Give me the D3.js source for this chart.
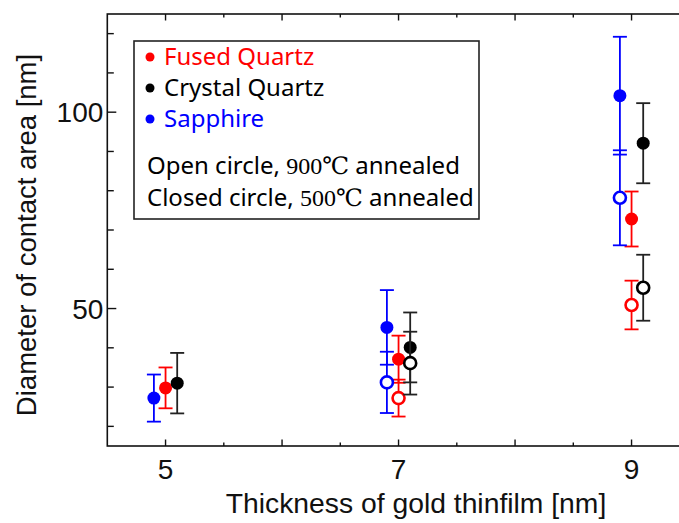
<!DOCTYPE html>
<html><head><meta charset="utf-8">
<script src="https://cdn.jsdelivr.net/npm/d3@7"></script>
<style>body{margin:0;background:#fff}</style>
</head><body>
<svg id="c" width="679" height="523"></svg>
<script>
// ---- data ----
const thicknessClosed = [5, 7, 9];
const thicknessOpen = [7, 9];
const seriesNames = ["Fused Quartz", "Crystal Quartz", "Sapphire"];
const seriesColors = ["#ff0000", "#000000", "#0000ff"];
const seriesOffsets = [0, 0.1, -0.1];
// closed circle = 500℃ annealed
const fusedClosed = [29.8, 37.1, 72.8];
const fusedClosedErr = [5.2, 6.0, 7.0];
const crystalClosed = [31.0, 40.1, 92.1];
const crystalClosedErr = [7.7, 8.9, 10.2];
const sapphireClosed = [27.2, 45.2, 104.2];
const sapphireClosedErr = [6.0, 9.5, 15.0];
// open circle = 900℃ annealed
const fusedOpen = [27.2, 50.9];
const fusedOpenErr = [4.7, 6.2];
const crystalOpen = [36.1, 55.3];
const crystalOpenErr = [8.0, 8.4];
const sapphireOpen = [31.2, 78.2];
const sapphireOpenErr = [7.8, 12.1];
const xTickLabels = [5, 7, 9];
const yTickLabels = [50, 100];

const closedVals = [fusedClosed, crystalClosed, sapphireClosed];
const closedErrs = [fusedClosedErr, crystalClosedErr, sapphireClosedErr];
const openVals = [fusedOpen, crystalOpen, sapphireOpen];
const openErrs = [fusedOpenErr, crystalOpenErr, sapphireOpenErr];

// ---- layout ----
const svg = d3.select("#c");
const L = 107.3, T = 14, B = 446;
const x = d3.scaleLinear().domain([4.5, 9.5]).range([L, L + 5 * 116.5]);
const y = d3.scaleLinear().domain([15, 125]).range([B, T]);
const R = x(9.5);
const axisFont = "'Liberation Sans', Arial, sans-serif";
const legFont = "'Noto Sans', 'Open Sans', sans-serif";

// frame
svg.append("rect").attr("x", L).attr("y", T).attr("width", R - L).attr("height", B - T)
  .attr("fill", "none").attr("stroke", "#111").attr("stroke-width", 1.6);

// x ticks (bottom + top), every 0.5, major at integers
const xt = d3.range(5, 9.51, 0.5);
xt.forEach(v => {
  const major = Math.abs(v - Math.round(v)) < 1e-6;
  const len = major ? 6.5 : 3.5;
  svg.append("line").attr("x1", x(v)).attr("x2", x(v)).attr("y1", B).attr("y2", B - len)
    .attr("stroke", "#111").attr("stroke-width", 1.4);
  svg.append("line").attr("x1", x(v)).attr("x2", x(v)).attr("y1", T).attr("y2", T + len)
    .attr("stroke", "#111").attr("stroke-width", 1.4);
});
xTickLabels.forEach(v => {
  svg.append("text").attr("x", x(v)).attr("y", B + 33).attr("text-anchor", "middle")
    .attr("font-family", axisFont).attr("font-size", 28).attr("fill", "#111").text(v);
});
// y ticks every 10
d3.range(20, 121, 10).forEach(v => {
  const major = v % 50 === 0;
  svg.append("line").attr("x1", L).attr("x2", L + (major ? 9 : 6.5)).attr("y1", y(v)).attr("y2", y(v))
    .attr("stroke", "#111").attr("stroke-width", 1.4);
});
yTickLabels.forEach(v => {
  svg.append("text").attr("x", L - 4).attr("y", y(v)).attr("dy", "0.36em").attr("text-anchor", "end")
    .attr("font-family", axisFont).attr("font-size", 28).attr("fill", "#111").text(v);
});
// axis titles
svg.append("text").attr("x", 416).attr("y", 513).attr("text-anchor", "middle")
  .attr("font-family", axisFont).attr("font-size", 28.3).attr("fill", "#111")
  .text("Thickness of gold thinfilm [nm]");
svg.append("text").attr("transform", "translate(36,235) rotate(-90)").attr("text-anchor", "middle")
  .attr("font-family", axisFont).attr("font-size", 27.5).attr("fill", "#111")
  .text("Diameter of contact area [nm]");

// ---- marks ----
function drawSeries(xs, vals, errs, color, off, open) {
  const g = svg.append("g");
  xs.forEach((t, i) => {
    const cx = x(t + off), v = vals[i], e = errs[i];
    const c = color === "#000000" ? "#222" : color;
    g.append("line").attr("x1", cx).attr("x2", cx).attr("y1", y(v + e)).attr("y2", y(v - e))
      .attr("stroke", c).attr("stroke-width", 1.8);
    [v + e, v - e].forEach(w => g.append("line").attr("x1", cx - 7).attr("x2", cx + 7)
      .attr("y1", y(w)).attr("y2", y(w)).attr("stroke", c).attr("stroke-width", 1.8));
  });
  xs.forEach((t, i) => {
    const cx = x(t + off), v = vals[i];
    g.append("circle").attr("cx", cx).attr("cy", y(v)).attr("r", open ? 6 : 6.5)
      .attr("fill", open ? "#fff" : color).attr("stroke", open ? color : "none")
      .attr("stroke-width", open ? 2.6 : 0);
  });
}
[0, 1, 2].forEach(s => {
  drawSeries(thicknessClosed, closedVals[s], closedErrs[s], seriesColors[s], seriesOffsets[s], false);
  drawSeries(thicknessOpen, openVals[s], openErrs[s], seriesColors[s], seriesOffsets[s], true);
});

// ---- legend ----
const lg = svg.append("g");
lg.append("rect").attr("x", 134).attr("y", 41).attr("width", 345).attr("height", 178)
  .attr("fill", "#fff").attr("stroke", "#222").attr("stroke-width", 1.6);
const legBase = [65, 96, 127];
seriesNames.forEach((n, i) => {
  lg.append("circle").attr("cx", 150).attr("cy", legBase[i] - 8).attr("r", 4.5).attr("fill", seriesColors[i]);
  lg.append("text").attr("x", 164).attr("y", legBase[i]).attr("font-family", legFont)
    .attr("font-size", 24).attr("fill", seriesColors[i]).text(n);
});
const noteLines = [["Open circle, ", "900℃", " annealed"], ["Closed circle, ", "500℃", " annealed"]];
const noteBase = [174, 206];
noteLines.forEach((parts, i) => {
  const t = lg.append("text").attr("x", 147).attr("y", noteBase[i]).attr("font-family", legFont)
    .attr("font-size", 24).attr("fill", "#000");
  t.append("tspan").text(parts[0]);
  t.append("tspan").attr("font-family", "'Liberation Serif', 'DejaVu Serif', serif").text(parts[1]);
  t.append("tspan").text(parts[2]);
});
</script>
</body></html>
